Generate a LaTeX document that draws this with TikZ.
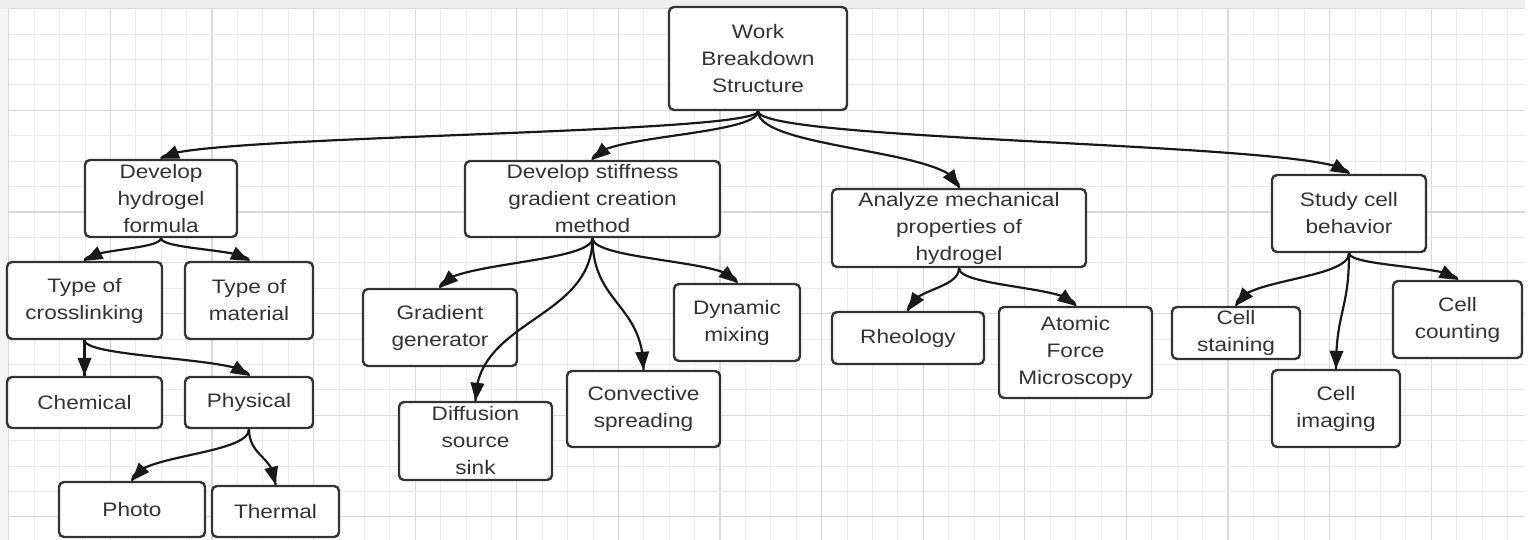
\documentclass[tikz,border=0pt]{standalone}
\usepackage{fontspec}
\setmainfont{Liberation Sans}[FakeStretch=1.16]
\usetikzlibrary{arrows.meta,calc,decorations.markings}
\definecolor{ink}{HTML}{333333}
\definecolor{gridminor}{HTML}{EBEBEB}
\definecolor{gridmajor}{HTML}{D9D9D9}
\definecolor{band}{HTML}{EEEEEE}
\tikzset{
  wbox/.style={draw=ink, line width=2.4pt, rounded corners=5pt, fill=white, inner sep=0pt},
  wtxt/.style={text=ink, align=center, font=\fontsize{19.5}{27}\selectfont, inner sep=0pt},
  link/.style={draw=black!90, line width=2.2pt},
  arrowonly/.style={draw=black!90, line width=2.2pt, -{Triangle[length=18pt,width=13.5pt]}},
  gminor/.style={draw=gridminor, line width=1pt},
  gmajor/.style={draw=gridmajor, line width=1.1pt},
}
\newcommand\wbsnode[6]{%
  \node[wbox, minimum width=#4pt, minimum height=#5pt] (#1) at (#2,#3) {};
  \node[wtxt] (#1-t) at (#1.center) {#6};}
\newcommand\wbsedge[2]{%
  \coordinate (#1-#2-m) at ($(#1.south)!0.5!(#2.north)$);
  \draw[link, postaction={decorate, decoration={markings,
      mark=at position -17pt with {\coordinate (#1-#2-b);}}}]
    (#1.south) .. controls (#1.south |- #1-#2-m) and (#2.north |- #1-#2-m) .. (#2.north);
  \draw[arrowonly] (#1-#2-b) -- (#2.north);}
\begin{document}
\begin{tikzpicture}[x=1pt,y=-1pt]
\useasboundingbox (0,0) rectangle (1530,540);
\fill[white] (0,0) rectangle (1530,540);
\fill[band] (0,0) rectangle (1525,8.8);
\fill[band!60] (0,8.8) rectangle (8.8,540);
% grid
\foreach \i in {0,...,59} {
  \pgfmathtruncatemacro\r{mod(\i,4)}
  \ifnum\r=0
    \draw[gmajor] ({8.8+25.4*\i},8.8) -- ({8.8+25.4*\i},540);
  \else
    \draw[gminor] ({8.8+25.4*\i},8.8) -- ({8.8+25.4*\i},540);
  \fi
}
\foreach \i in {0,...,20} {
  \pgfmathtruncatemacro\r{mod(\i,4)}
  \ifnum\r=0
    \draw[gmajor] (8.8,{8.8+25.4*\i}) -- (1525,{8.8+25.4*\i});
  \else
    \draw[gminor] (8.8,{8.8+25.4*\i}) -- (1525,{8.8+25.4*\i});
  \fi
}
% nodes
\wbsnode{root}{758}{58.5}{178}{103}{Work\\Breakdown\\Structure}
\wbsnode{dhf}{161}{198.5}{152}{77}{Develop\\hydrogel\\formula}
\wbsnode{tcl}{84.5}{300.5}{155}{77}{Type of\\crosslinking}
\wbsnode{tmat}{249}{300.5}{128}{77}{Type of\\material}
\wbsnode{chem}{84.5}{402.5}{155}{51}{Chemical}
\wbsnode{phys}{249}{402.5}{128}{51}{Physical}
\wbsnode{photo}{132}{509.5}{146}{55}{Photo}
\wbsnode{therm}{275.5}{511.5}{127}{51}{Thermal}
\wbsnode{dsg}{592.5}{199}{255}{76}{Develop stiffness\\gradient creation\\method}
\wbsnode{grad}{440}{327.5}{154}{77}{Gradient\\generator}
\wbsnode{diff}{475.5}{441}{153}{78}{Diffusion\\source\\sink}
\wbsnode{conv}{643.5}{409}{153}{76}{Convective\\spreading}
\wbsnode{dyn}{737}{322.5}{126}{77}{Dynamic\\mixing}
\wbsnode{ana}{959}{228}{254}{78}{Analyze mechanical\\properties of\\hydrogel}
\wbsnode{rheo}{908}{338}{152}{52}{Rheology}
\wbsnode{afm}{1075.5}{352.5}{153}{91}{Atomic\\Force\\Microscopy}
\wbsnode{scb}{1349}{213.5}{154}{77}{Study cell\\behavior}
\wbsnode{cst}{1236}{333}{128}{52}{Cell\\staining}
\wbsnode{cim}{1336}{408.5}{128}{77}{Cell\\imaging}
\wbsnode{ccnt}{1457.5}{319.5}{129}{77}{Cell\\counting}
% edges
\wbsedge{root}{dhf}
\wbsedge{root}{dsg}
\wbsedge{root}{ana}
\wbsedge{root}{scb}
\wbsedge{dhf}{tcl}
\wbsedge{dhf}{tmat}
\wbsedge{tcl}{chem}
\wbsedge{tcl}{phys}
\wbsedge{phys}{photo}
\wbsedge{phys}{therm}
\wbsedge{dsg}{grad}
\wbsedge{dsg}{diff}
\wbsedge{dsg}{conv}
\wbsedge{dsg}{dyn}
\wbsedge{ana}{rheo}
\wbsedge{ana}{afm}
\wbsedge{scb}{cst}
\wbsedge{scb}{cim}
\wbsedge{scb}{ccnt}
\end{tikzpicture}
\end{document}
